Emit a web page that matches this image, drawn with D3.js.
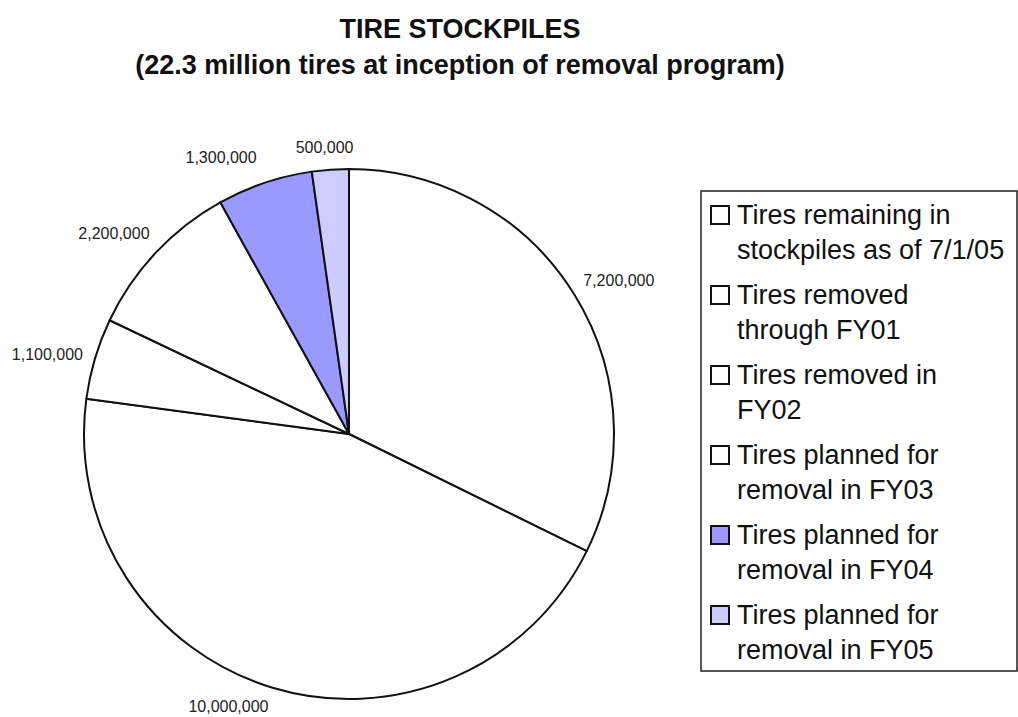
<!DOCTYPE html>
<html>
<head>
<meta charset="utf-8">
<script src="https://cdn.jsdelivr.net/npm/d3@7"></script>
<style>
  body { margin: 0; background: #fff; }
  svg { display: block; font-family: Arial, "Liberation Sans", sans-serif; }
</style>
</head>
<body>
<div id="vis"></div>
<script>
// chart data
const categories = [
  "Tires remaining in stockpiles as of 7/1/05",
  "Tires removed through FY01",
  "Tires removed in FY02",
  "Tires planned for removal in FY03",
  "Tires planned for removal in FY04",
  "Tires planned for removal in FY05"
];
const values = [7200000, 10000000, 1100000, 2200000, 1300000, 500000];
const valueLabels = ["7,200,000", "10,000,000", "1,100,000", "2,200,000", "1,300,000", "500,000"];
// legend text split into lines as shown
const legendLines = [
  ["Tires remaining in", "stockpiles as of 7/1/05"],
  ["Tires removed", "through FY01"],
  ["Tires removed in", "FY02"],
  ["Tires planned for", "removal in FY03"],
  ["Tires planned for", "removal in FY04"],
  ["Tires planned for", "removal in FY05"]
];
const colors = ["#ffffff", "#ffffff", "#ffffff", "#ffffff", "#9999ff", "#ccccff"];

const WIDTH = 1018, HEIGHT = 717;
const CX = 349, CY = 434, R = 265;

const svg = d3.select("#vis").append("svg")
  .attr("width", WIDTH)
  .attr("height", HEIGHT);

// title
svg.append("text")
  .attr("x", 460).attr("y", 38)
  .attr("text-anchor", "middle")
  .attr("font-weight", "bold").attr("font-size", 27)
  .attr("fill", "#111")
  .text("TIRE STOCKPILES");
svg.append("text")
  .attr("x", 460).attr("y", 74)
  .attr("text-anchor", "middle")
  .attr("font-weight", "bold").attr("font-size", 27)
  .attr("fill", "#111")
  .text("(22.3 million tires at inception of removal program)");

// pie, clockwise from 12 o'clock
const pie = d3.pie().sort(null).value(d => d)(values);
const arc = d3.arc().innerRadius(0).outerRadius(R);

const g = svg.append("g").attr("transform", "translate(" + CX + "," + CY + ")");

g.selectAll("path")
  .data(pie)
  .enter()
  .append("path")
    .attr("d", arc)
    .attr("fill", (d, i) => colors[i])
    .attr("stroke", "#111")
    .attr("stroke-width", 2)
    .attr("stroke-linejoin", "round");

// data labels outside the pie
const LABEL_R = 290;
// small nudges so labels sit where the original put them
const nudge = [[-12, 0], [-36, -5], [12, 3], [12, -2], [0, -2], [-4, 3]];

g.selectAll(".lbl")
  .data(pie)
  .enter()
  .append("text")
    .attr("class", "lbl")
    .each(function(d, i) {
      let a = (d.startAngle + d.endAngle) / 2;
      let s = Math.sin(a), c = Math.cos(a);
      let anchor = s > 0.3 ? "start" : (s < -0.3 ? "end" : "middle");
      d3.select(this)
        .attr("x", s * LABEL_R + nudge[i][0])
        .attr("y", -c * LABEL_R + nudge[i][1])
        .attr("dy", "0.35em")
        .attr("text-anchor", anchor);
    })
    .attr("font-size", 16)
    .attr("fill", "#222")
    .text((d, i) => valueLabels[i]);

// legend
const LEG_X = 701, LEG_Y = 191, LEG_W = 316, LEG_H = 480;
const legend = svg.append("g");

legend.append("rect")
  .attr("x", LEG_X).attr("y", LEG_Y)
  .attr("width", LEG_W).attr("height", LEG_H)
  .attr("fill", "#fff")
  .attr("stroke", "#222")
  .attr("stroke-width", 1.5);

const ITEM_Y = d3.scaleLinear().domain([0, 1]).range([LEG_Y + 24, LEG_Y + 24 + 80]);

const items = legend.selectAll(".item")
  .data(categories)
  .enter()
  .append("g")
    .attr("class", "item")
    .attr("transform", (d, i) => "translate(" + (LEG_X + 10) + "," + ITEM_Y(i) + ")");

items.append("rect")
  .attr("x", 0).attr("y", -9)
  .attr("width", 18).attr("height", 18)
  .attr("fill", (d, i) => colors[i])
  .attr("stroke", "#111")
  .attr("stroke-width", 2);

items.each(function(d, i) {
  d3.select(this).selectAll("text")
    .data(legendLines[i])
    .enter()
    .append("text")
      .attr("x", 26)
      .attr("y", (t, j) => j * 35)
      .attr("dy", "0.35em")
      .attr("font-size", 27)
      .attr("fill", "#111")
      .text(t => t);
});
</script>
</body>
</html>
